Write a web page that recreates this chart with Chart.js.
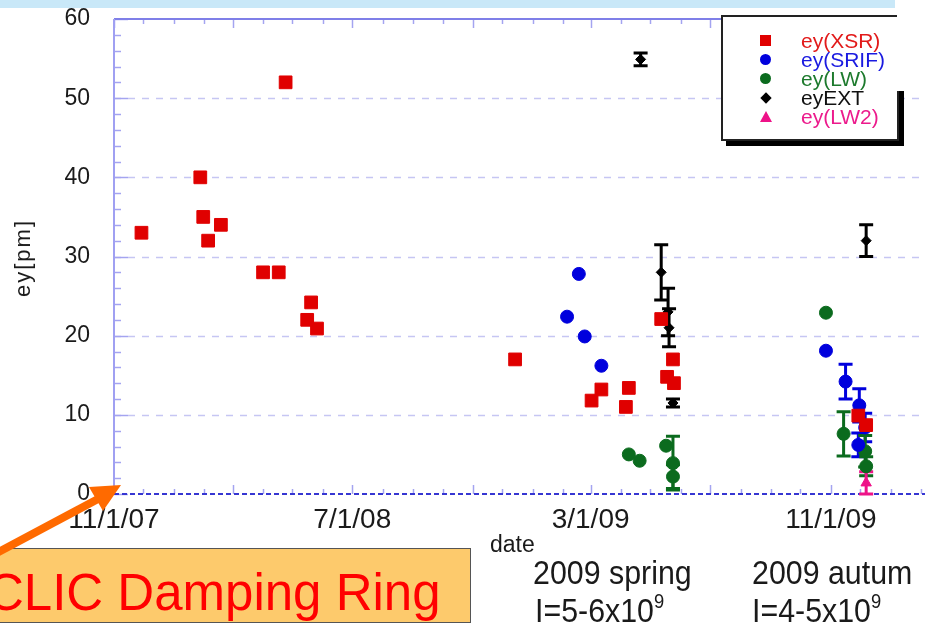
<!DOCTYPE html>
<html>
<head>
<meta charset="utf-8">
<script src="https://cdn.jsdelivr.net/npm/chart.js@4.4.0/dist/chart.umd.min.js"></script>
<style>
  html, body { margin: 0; padding: 0; background: #fff; }
  #wrap { position: relative; width: 925px; height: 626px; overflow: hidden;
          font-family: "Liberation Sans", Arial, sans-serif; color: #1a1a1a; }
  #band { position: absolute; left: 0; top: 0; width: 895px; height: 8px; background: #c9e8f8; }
  #chart { position: absolute; left: 0; top: 0; }
  #legend { position: absolute; left: 721px; top: 15px; width: 174px; height: 122px;
            border: 2px solid #222; background: #fff; box-shadow: 5px 5px 0 #000; }
  #legend .row { position: absolute; left: 0; height: 19px; line-height: 19px; font-size: 21px; }
  #legend .mk { position: absolute; left: 36px; top: 4px; }
  #legend .tx { position: absolute; left: 78px; top: 0; white-space: nowrap; }
  #cover { position: absolute; left: 897px; top: 0; width: 28px; height: 91px; background: #fff; }
  #ytitle { position: absolute; left: 23px; top: 258px; font-size: 22px; letter-spacing: 2px; white-space: nowrap;
            transform: translate(-50%, -50%) rotate(-90deg); }
  #xtitle { position: absolute; left: 490px; top: 531px; font-size: 23px; }
  .note { position: absolute; font-size: 33px; line-height: 38px; white-space: nowrap;
          transform: scaleX(0.92); transform-origin: left top; }
  .note sup { font-size: 20px; vertical-align: 14px; line-height: 0; }
  #clic { position: absolute; left: -3px; top: 548px; width: 472px; height: 73px; background: #fdca6c;
          border: 1px solid #555; overflow: hidden; }
  #clic span { position: absolute; left: -11px; top: 16px; font-size: 51px; line-height: 56px;
               color: #ff0000; white-space: nowrap; }
  #arrow { position: absolute; left: 0; top: 0; }
</style>
</head>
<body>
<div id="wrap">
  <div id="band"></div>
  <canvas id="chart" width="925" height="626"></canvas>
  <div id="legend"></div>
  <div id="cover"></div>
  <div id="ytitle">ey[pm]</div>
  <div id="xtitle">date</div>
  <div id="clic"><span>CLIC Damping Ring</span></div>
  <svg id="arrow" width="925" height="626">
    <line x1="-20" y1="562" x2="98" y2="499" stroke="#ff6a00" stroke-width="8"/>
    <polygon points="121,485 89,487 103,511" fill="#ff6a00"/>
  </svg>
  <div class="note" style="left:533px; top:554px;">2009 spring</div>
  <div class="note" style="left:535px; top:592px;">I=5-6x10<sup>9</sup></div>
  <div class="note" style="left:752px; top:554px;">2009 autum</div>
  <div class="note" style="left:752px; top:592px;">I=4-5x10<sup>9</sup></div>
</div>
<script>
// ---- data ----
const axisStart = '2007-11-01';
const axisEnd = '2010-02-05';
const xLabelDates = ['2007-11-01', '2008-07-01', '2009-03-01', '2009-11-01'];
const yTicks = [0, 10, 20, 30, 40, 50, 60];

const xsrDates = ['2007-11-29', '2008-01-28', '2008-01-31', '2008-02-05', '2008-02-18', '2008-04-01',
                  '2008-04-17', '2008-04-24', '2008-05-16', '2008-05-20', '2008-05-26', '2008-12-14',
                  '2009-03-02', '2009-03-12', '2009-04-06', '2009-04-09', '2009-05-12', '2009-05-18',
                  '2009-05-24', '2009-05-25', '2009-11-29', '2009-12-07'];
const xsrValues = [33, 40, 35, 32, 34, 28, 28, 52, 22, 24.2, 20.9, 17,
                   11.8, 13.2, 11, 13.4, 22.1, 14.8, 17, 14, 9.9, 8.7];

const srifDates = ['2009-02-05', '2009-02-17', '2009-02-23', '2009-03-12', '2009-10-27',
                   '2009-11-16', '2009-11-30', '2009-12-06', '2009-11-29'];
const srifValues = [22.4, 27.8, 19.9, 16.2, 18.1, 14.2, 11.2, 8.4, 6.2];
const srifErrors = [0, 0, 0, 0, 0, 2.2, 2.1, 1.8, 1.5];

const lwDates = ['2009-04-09', '2009-04-20', '2009-05-17', '2009-05-24', '2009-05-24',
                 '2009-10-27', '2009-11-14', '2009-12-06', '2009-12-07'];
const lwValues = [5.0, 4.2, 6.1, 3.9, 2.2, 22.9, 7.6, 5.4, 3.5];
const lwErrors = [0, 0, 0, 3.4, 1.5, 0, 2.8, 2.0, 1.2];

const extDates = ['2009-04-21', '2009-05-12', '2009-05-19', '2009-05-20', '2009-05-24', '2009-12-07'];
const extValues = [54.9, 28, 23, 21, 11.5, 32];
const extErrors = [0.8, 3.5, 3.0, 2.4, 0.5, 2.0];

const lw2Dates = ['2009-12-07'];
const lw2Values = [1.4];
const lw2Errors = [1.4];

// ---- helpers ----
const DAY = 86400000;
const origin = Date.parse(axisStart);
function dayOf(s) { return (Date.parse(s) - origin) / DAY; }
function fmtDay(v) {
    const d = new Date(origin + v * DAY);
    return (d.getUTCMonth() + 1) + '/' + d.getUTCDate() + '/' + String(d.getUTCFullYear()).slice(2);
}
function toPoints(dates, values) {
    return dates.map((d, i) => ({ x: dayOf(d), y: values[i] }));
}

const FONT = '"Liberation Sans", Arial, sans-serif';

const series = [
    { label: 'ey(XSR)', dates: xsrDates, values: xsrValues, errors: null, color: '#e00000', text: '#e21a1a', style: 'rect', radius: 9 },
    { label: 'ey(SRIF)', dates: srifDates, values: srifValues, errors: srifErrors, color: '#0000dd', text: '#1a1ae0', style: 'circle', radius: 6.5 },
    { label: 'ey(LW)', dates: lwDates, values: lwValues, errors: lwErrors, color: '#0b6b1e', text: '#1d7a2d', style: 'circle', radius: 6.5 },
    { label: 'eyEXT', dates: extDates, values: extValues, errors: extErrors, color: '#000000', text: '#111111', style: 'rectRot', radius: 5 },
    { label: 'ey(LW2)', dates: lw2Dates, values: lw2Values, errors: lw2Errors, color: '#ee1288', text: '#ec1a8c', style: 'triangle', radius: 6 }
];

// frame, dashed grid and inward ticks
const framePlugin = {
    id: 'frame',
    beforeDatasetsDraw(chart) {
        const { ctx, chartArea: a, scales: { x, y } } = chart;
        ctx.save();
        function seg(x1, y1, x2, y2) { ctx.beginPath(); ctx.moveTo(x1, y1); ctx.lineTo(x2, y2); ctx.stroke(); }

        ctx.lineWidth = 1.5;
        ctx.strokeStyle = '#c6c6f3';
        ctx.setLineDash([7, 7]);
        yTicks.slice(1, -1).forEach(v => {
            const py = Math.round(y.getPixelForValue(v)) + 0.5;
            seg(a.left, py, a.right, py);
        });

        // y ticks (minor every 2)
        ctx.setLineDash([]);
        ctx.strokeStyle = '#a4a4f0';
        ctx.lineWidth = 1.5;
        for (let v = 0; v <= 60; v += 2) {
            const py = Math.round(y.getPixelForValue(v)) + 0.5;
            seg(a.left, py, a.left + (v % 10 === 0 ? 14 : 7), py);
        }

        // x ticks: monthly minor, 4-monthly major, bottom and top
        const start = new Date(origin);
        for (let m = 0; ; m++) {
            const d = Date.UTC(start.getUTCFullYear(), start.getUTCMonth() + m, 1);
            const v = (d - origin) / DAY;
            if (v > x.max) break;
            const px = Math.round(x.getPixelForValue(v)) + 0.5;
            const len = m % 4 === 0 ? 9 : 5;
            seg(px, a.bottom, px, a.bottom - len);
            seg(px, a.top, px, a.top + len);
        }

        // top border and left axis
        ctx.strokeStyle = '#7f7fe8';
        ctx.lineWidth = 2;
        seg(a.left, a.top, a.right, a.top);
        ctx.strokeStyle = '#a0a0f2';
        seg(a.left, a.top, a.left, a.bottom);

        // zero line
        ctx.strokeStyle = '#3636d2';
        ctx.lineWidth = 2;
        ctx.setLineDash([5, 3]);
        const p0 = Math.round(y.getPixelForValue(0));
        seg(a.left, p0, a.right, p0);
        ctx.restore();
    }
};

// vertical error bars with caps
const errorBarPlugin = {
    id: 'errorBars',
    beforeDatasetsDraw(chart) {
        const { ctx, scales: { x, y } } = chart;
        ctx.save();
        chart.data.datasets.forEach(ds => {
            if (!ds.errors) return;
            ctx.strokeStyle = ds.borderColor;
            ctx.lineWidth = 3;
            ds.data.forEach((pt, i) => {
                const e = ds.errors[i];
                if (!e) return;
                const px = x.getPixelForValue(pt.x);
                const top = y.getPixelForValue(pt.y + e);
                const bot = y.getPixelForValue(pt.y - e);
                ctx.beginPath();
                ctx.moveTo(px, top); ctx.lineTo(px, bot);
                ctx.moveTo(px - 7, top); ctx.lineTo(px + 7, top);
                ctx.moveTo(px - 7, bot); ctx.lineTo(px + 7, bot);
                ctx.stroke();
            });
        });
        ctx.restore();
    }
};

const datasets = series.map(s => ({
    label: s.label,
    data: toPoints(s.dates, s.values),
    errors: s.errors,
    pointStyle: s.style,
    pointRadius: s.radius,
    pointHoverRadius: s.radius,
    backgroundColor: s.color,
    borderColor: s.color,
    borderWidth: 1,
    showLine: false
}));

new Chart(document.getElementById('chart'), {
    type: 'scatter',
    data: { datasets: datasets },
    plugins: [framePlugin, errorBarPlugin],
    options: {
        responsive: false,
        animation: false,
        layout: { autoPadding: false, padding: { top: 19, right: 0, bottom: 0, left: 0 } },
        plugins: { legend: { display: false }, tooltip: { enabled: false } },
        scales: {
            x: {
                type: 'linear',
                min: 0,
                max: dayOf(axisEnd),
                grid: { display: false, drawTicks: false },
                border: { display: false },
                afterBuildTicks: scale => { scale.ticks = xLabelDates.map(d => ({ value: dayOf(d) })); },
                afterFit: scale => { scale.height = 132; scale.paddingLeft = 0; scale.paddingRight = 0; },
                ticks: {
                    autoSkip: false,
                    maxRotation: 0,
                    padding: 9,
                    color: '#1a1a1a',
                    font: { family: FONT, size: 28 },
                    callback: v => fmtDay(v)
                }
            },
            y: {
                min: 0,
                max: 60,
                grid: { display: false, drawTicks: false },
                border: { display: false },
                afterBuildTicks: scale => { scale.ticks = yTicks.map(v => ({ value: v })); },
                afterFit: scale => { scale.width = 114; scale.paddingTop = 0; scale.paddingBottom = 0; },
                ticks: {
                    padding: 24,
                    color: '#1a1a1a',
                    font: { family: FONT, size: 23 }
                }
            }
        }
    }
});

// legend box
const legend = document.getElementById('legend');
series.forEach((s, i) => {
    const row = document.createElement('div');
    row.className = 'row';
    row.style.top = (14 + i * 19) + 'px';
    let mk;
    if (s.style === 'rect') mk = `<span class="mk" style="width:11px;height:11px;background:${s.color};left:37px;"></span>`;
    else if (s.style === 'circle') mk = `<span class="mk" style="width:11px;height:11px;border-radius:50%;background:${s.color};left:37px;"></span>`;
    else if (s.style === 'rectRot') mk = `<span class="mk" style="width:8px;height:8px;background:${s.color};transform:rotate(45deg);left:39px;top:6px;"></span>`;
    else mk = `<span class="mk" style="width:0;height:0;border-left:6px solid transparent;border-right:6px solid transparent;border-bottom:11px solid ${s.color};left:37px;"></span>`;
    row.innerHTML = mk + `<span class="tx" style="color:${s.text}">${s.label}</span>`;
    legend.appendChild(row);
});
</script>
</body>
</html>
